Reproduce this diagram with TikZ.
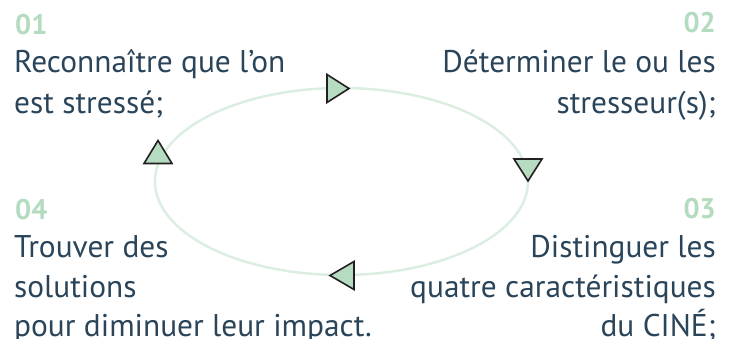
\documentclass[tikz,border=0pt]{standalone}
\usepackage{fontspec}
\setmainfont{PT Sans}
\definecolor{inkblue}{HTML}{2A4459}
\definecolor{stepgreen}{HTML}{B3DBBF}
\definecolor{ringgreen}{HTML}{DCEEE1}
\definecolor{markfill}{HTML}{B5DCC1}
\definecolor{markline}{HTML}{231F20}
\tikzset{
  numlabel/.style={inner sep=0pt, text=stepgreen, font=\fontsize{28.5}{34}\selectfont\bfseries},
  steptext/.style={inner sep=0pt, text=inkblue, font=\fontsize{31.5}{41}\selectfont},
  ring/.style={draw=ringgreen, line width=2.5bp},
  marker/.style={fill=markfill, draw=markline, line width=1.6bp, line join=miter}
}
\begin{document}
\begin{tikzpicture}[x=1bp, y=-1bp]
  \useasboundingbox (0,0) rectangle (733,338);

  % cycle ring
  \coordinate (c) at (341.5,181.5);
  \draw[ring] (c) ellipse [x radius=186.5, y radius=93.5];

  % direction markers on the ring
  \coordinate (m1) at (349,88.5);
  \coordinate (m2) at (528,181);
  \coordinate (m3) at (330,275.5);
  \coordinate (m4) at (158,140.5);
  \draw[marker] (m1) -- ++(-22,-14) -- ++(0,28) -- cycle;
  \draw[marker] (m2) -- ++(-14,-22) -- ++(28,0) -- cycle;
  \draw[marker] (m3) -- ++(24,-14) -- ++(0,28) -- cycle;
  \draw[marker] (m4) -- ++(-14,23) -- ++(28,0) -- cycle;

  % step 01
  \node[numlabel, anchor=base west] (n1) at (15,34) {01};
  \node[steptext, anchor=base west] (s1a) at (14,72) {Reconnaître que l’on};
  \node[steptext, anchor=base west] (s1b) at (14,113) {est stressé;};

  % step 02
  \node[numlabel, anchor=base east] (n2) at (716,32) {02};
  \node[steptext, anchor=base east] (s2a) at (716,72) {Déterminer le ou les};
  \node[steptext, anchor=base east] (s2b) at (716,113) {stresseur(s);};

  % step 03
  \node[numlabel, anchor=base east] (n3) at (716,218) {03};
  \node[steptext, anchor=base east] (s3a) at (716,257) {Distinguer les};
  \node[steptext, anchor=base east] (s3b) at (716,297) {quatre caractéristiques};
  \node[steptext, anchor=base east] (s3c) at (716,336) {du CINÉ;};

  % step 04
  \node[numlabel, anchor=base west] (n4) at (15,219) {04};
  \node[steptext, anchor=base west] (s4a) at (14,257) {Trouver des};
  \node[steptext, anchor=base west] (s4b) at (14,297) {solutions};
  \node[steptext, anchor=base west] (s4c) at (14,336) {pour diminuer leur impact.};
\end{tikzpicture}
\end{document}
